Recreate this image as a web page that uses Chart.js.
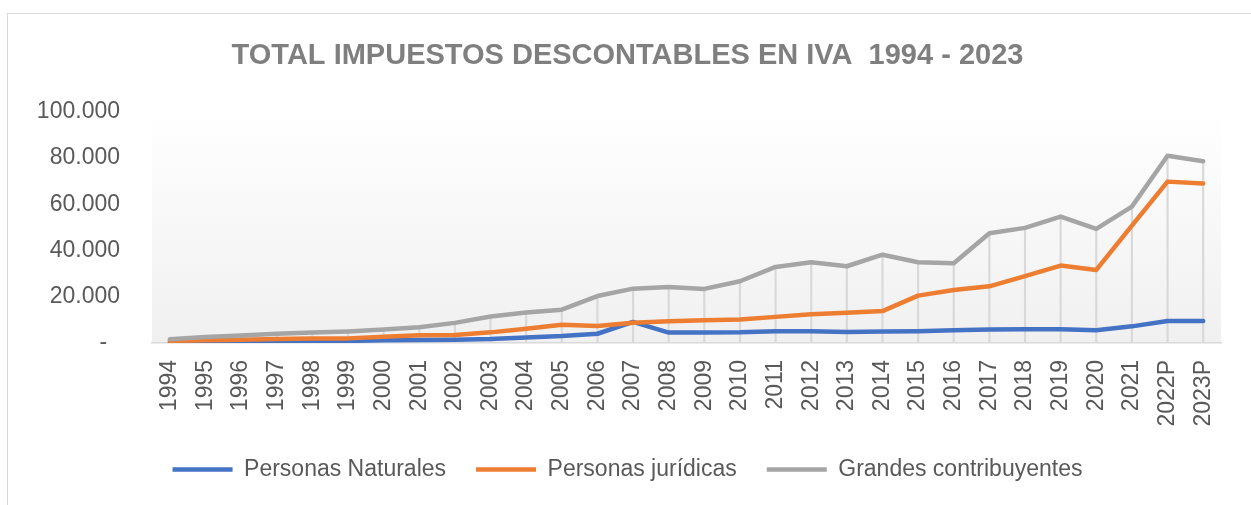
<!DOCTYPE html>
<html lang="es">
<head>
<meta charset="UTF-8">
<title>Total impuestos descontables en IVA 1994 - 2023</title>
<script src="https://cdn.jsdelivr.net/npm/chart.js"></script>
<style>
  html, body { margin: 0; padding: 0; background: #fff; overflow: hidden; }
  #frame { position: absolute; left: 7px; top: 13px; width: 1300px; height: 600px; border: 1px solid #d9d9d9; }
  #wrap { position: absolute; left: 0; top: 0; width: 1251px; height: 505px; }
</style>
</head>
<body>
<div id="frame"></div>
<div id="wrap"><canvas id="ivaChart"></canvas></div>
<script>
const years = ['1994','1995','1996','1997','1998','1999','2000','2001','2002','2003',
               '2004','2005','2006','2007','2008','2009','2010','2011','2012','2013',
               '2014','2015','2016','2017','2018','2019','2020','2021','2022P','2023P'];

// valores en millones (lectura aproximada del gráfico)
const naturales = [0, 200, 400, 600, 700, 900, 1200, 1300, 1400, 1700,
                   2400, 3000, 4000, 9100, 4500, 4500, 4600, 5100, 5100, 4800,
                   5000, 5100, 5500, 5800, 5900, 5900, 5500, 7200, 9500, 9500];
const juridicas = [900, 1200, 1400, 1700, 1900, 2000, 2700, 3300, 3500, 4600,
                   6200, 7900, 7400, 8800, 9400, 9800, 10200, 11300, 12400, 13100,
                   13800, 20500, 22900, 24500, 28900, 33500, 31600, 50800, 69800, 69000];
const grandes = [1600, 2600, 3200, 4000, 4500, 5000, 5800, 6800, 8700, 11500,
                 13200, 14400, 20300, 23500, 24200, 23400, 26700, 32900, 34900, 33200,
                 38200, 34900, 34500, 47500, 49800, 54700, 49400, 59000, 81000, 78600];

const FONT = "'Liberation Sans', Arial, sans-serif";
const TEXT = '#595959';

const plotBg = {
  id: 'plotBg',
  beforeDraw(chart) {
    const { ctx, chartArea: a } = chart;
    const g = ctx.createLinearGradient(0, a.top, 0, a.bottom);
    g.addColorStop(0, '#ffffff');
    g.addColorStop(1, '#f0f0f0');
    ctx.save();
    ctx.fillStyle = g;
    ctx.fillRect(a.left, a.top, a.right - a.left, a.bottom - a.top);
    ctx.restore();
  }
};

function fmt(v) {
  if (v === 0) return '-  ';
  return v.toLocaleString('de-DE');
}

const ctx = document.getElementById('ivaChart').getContext('2d');
new Chart(ctx, {
  data: {
    labels: years,
    datasets: [
      { type: 'line', label: 'Personas Naturales', data: naturales, borderColor: '#4472c4', backgroundColor: '#4472c4',
        borderWidth: 4.5, pointRadius: 0, borderCapStyle: 'round', borderJoinStyle: 'round', order: 3 },
      { type: 'line', label: 'Personas jurídicas', data: juridicas, borderColor: '#ed7d31', backgroundColor: '#ed7d31',
        borderWidth: 4.5, pointRadius: 0, borderCapStyle: 'round', borderJoinStyle: 'round', order: 2 },
      { type: 'line', label: 'Grandes contribuyentes', data: grandes, borderColor: '#a5a5a5', backgroundColor: '#a5a5a5',
        borderWidth: 4.5, pointRadius: 0, borderCapStyle: 'round', borderJoinStyle: 'round', order: 1 },
      // líneas de proyección
      { type: 'bar', label: 'drop', data: grandes, backgroundColor: '#d9d9d9', barThickness: 1.5, order: 5 }
    ]
  },
  options: {
    responsive: true,
    maintainAspectRatio: false,
    animation: false,
    layout: { padding: { left: 34, right: 30, top: 20, bottom: 14 } },
    plugins: {
      title: {
        display: true,
        text: 'TOTAL IMPUESTOS DESCONTABLES EN IVA  1994 - 2023',
        color: '#7f7f7f',
        font: { family: FONT, size: 29, weight: 'bold' },
        padding: { top: 19, bottom: 38 }
      },
      legend: {
        position: 'bottom',
        labels: {
          color: TEXT,
          font: { family: FONT, size: 23 },
          usePointStyle: true,
          pointStyle: 'line',
          pointStyleWidth: 60,
          padding: 30,
          filter: item => item.datasetIndex < 3,
          sort: (a, b) => a.datasetIndex - b.datasetIndex
        }
      },
      tooltip: { enabled: false }
    },
    scales: {
      x: {
        offset: true,
        grid: { display: false, drawTicks: false },
        border: { display: true, color: '#d9d9d9', width: 1.5 },
        ticks: { color: TEXT, font: { family: FONT, size: 23 }, minRotation: 90, maxRotation: 90, padding: 17, autoSkip: false },
        afterFit(axis) { axis.height = 85; }
      },
      y: {
        min: 0,
        max: 100000,
        grid: { display: false, drawTicks: false },
        border: { display: false },
        ticks: { stepSize: 20000, color: TEXT, font: { family: FONT, size: 23 }, padding: 32, callback: v => fmt(v) },
        afterFit(axis) { axis.width = 118; }
      }
    }
  },
  plugins: [plotBg]
});
</script>
</body>
</html>
